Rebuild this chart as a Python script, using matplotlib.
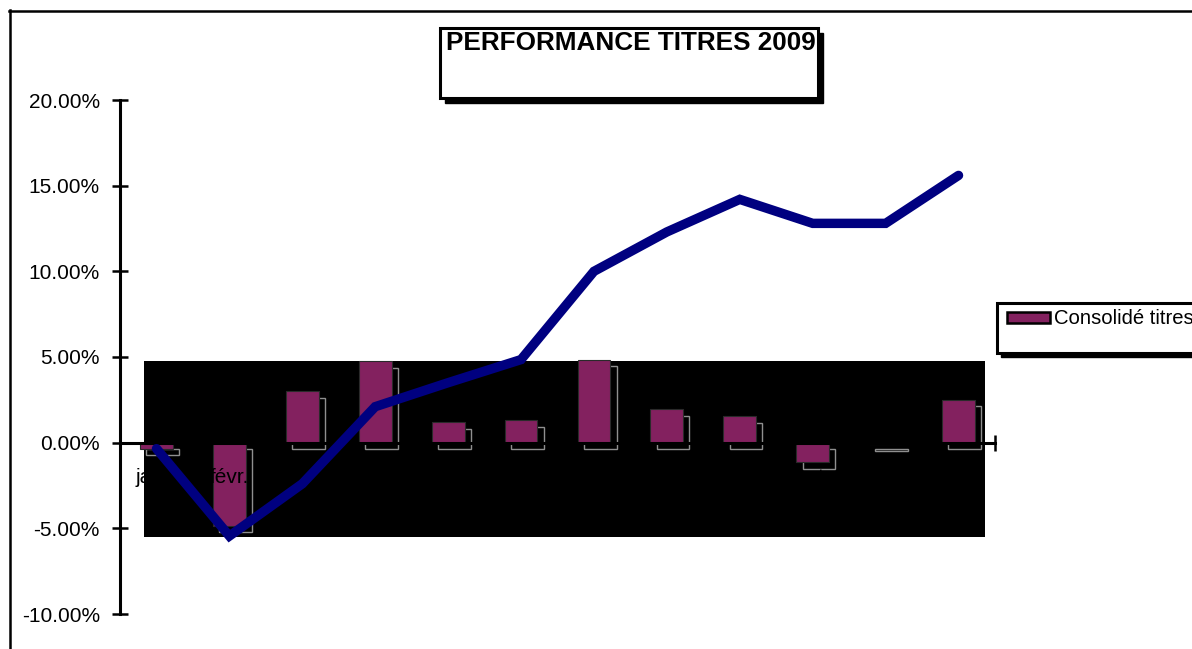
import matplotlib
matplotlib.use("Agg")
import matplotlib.pyplot as plt
from matplotlib.patches import Rectangle
from matplotlib.lines import Line2D
from matplotlib.ticker import FuncFormatter, FixedLocator
import numpy as np

plt.rcParams['font.family'] = ['Liberation Sans', 'DejaVu Sans']

months = ['janv.', 'févr.', 'mars', 'avr.', 'mai', 'juin', 'juil.', 'août',
          'sept.', 'oct.', 'nov.', 'déc.']
monthly = [-0.35, -4.85, 3.0, 4.75, 1.2, 1.3, 4.85, 1.95, 1.55, -1.15, -0.1, 2.5]
cumulative = [-0.35, -5.45, -2.4, 2.1, 3.5, 4.85, 10.0, 12.3, 14.2, 12.8, 12.8, 15.6]
yticks = [-10, -5, 0, 5, 10, 15, 20]

W, H = 1192, 649
fig = plt.figure(figsize=(W / 100, H / 100), dpi=100)

def fx(x):
    return x / W

def fy(y):
    return 1 - y / H

# axes placement
ax = fig.add_axes([fx(120), fy(614), fx(995) - fx(120), fy(100) - fy(614)])
x = np.arange(len(months))
ax.set_xlim(-0.5, len(months) - 0.5)
ax.set_ylim(-10, 20)

# black plot-area artefact
ax.add_patch(Rectangle((-0.17, -5.5), 11.53, 10.25, facecolor='black',
                       edgecolor='none', zorder=0.5))

bar_color = '#83215F'
bw = 0.45
# shadows
ax.bar(x + 0.085, monthly, bw, bottom=-0.38, fill=False, edgecolor='#8f8f8f',
       linewidth=1.0, zorder=0.8)
ax.bar(x, monthly, bw, color=bar_color, edgecolor='#2a2a2a', linewidth=0.8,
       zorder=1)
ax.plot(x, cumulative, color='#000080', linewidth=6.8, solid_capstyle='round',
        solid_joinstyle='miter', zorder=3)

# spines
for s in ['top', 'right']:
    ax.spines[s].set_visible(False)
ax.spines['left'].set_linewidth(2.2)
ax.spines['bottom'].set_linewidth(2.2)
ax.spines['bottom'].set_position(('data', 0))

ax.set_yticks(yticks)
ax.yaxis.set_major_formatter(FuncFormatter(lambda v, p: f"{v:.2f}%"))
ax.tick_params(axis='y', direction='inout', length=11, width=1.8, pad=9,
               labelsize=15, colors='black')

ax.xaxis.set_major_locator(FixedLocator(np.arange(-0.5, len(months), 1.0)))
ax.xaxis.set_minor_locator(FixedLocator(x))
ax.set_xticklabels([], minor=False)
ax.set_xticklabels(months, minor=True)
ax.tick_params(axis='x', which='major', direction='inout', length=11, width=1.8)
ax.tick_params(axis='x', which='minor', length=0, pad=18, labelsize=15)

# figure border
fig.add_artist(Line2D([fx(10), fx(10)], [fy(10), fy(700)], color='black', lw=1.8))
fig.add_artist(Line2D([fx(9), fx(1300)], [fy(11), fy(11)], color='black', lw=1.8))

# title box with shadow
fig.add_artist(Rectangle((fx(445), fy(103)), fx(378), fy(28) - fy(98),
                         facecolor='black', edgecolor='black', lw=1))
fig.add_artist(Rectangle((fx(440), fy(98)), fx(378), fy(28) - fy(98),
                         facecolor='white', edgecolor='black', lw=2.2))
fig.text(fx(446), fy(50), 'PERFORMANCE TITRES 2009', fontsize=18.8,
         fontweight='bold', ha='left', va='baseline')

# legend box with shadow
fig.add_artist(Rectangle((fx(1001), fy(357)), fx(300), fy(303) - fy(353),
                         facecolor='black', edgecolor='black', lw=1))
fig.add_artist(Rectangle((fx(997), fy(353)), fx(300), fy(303) - fy(353),
                         facecolor='white', edgecolor='black', lw=2.2))
fig.add_artist(Rectangle((fx(1007), fy(323)), fx(43), fy(312) - fy(323),
                         facecolor=bar_color, edgecolor='black', lw=1.8))
fig.text(fx(1054), fy(318), 'Consolidé titres', fontsize=14.6, ha='left',
         va='center')

fig.savefig('out.png', dpi=100)
